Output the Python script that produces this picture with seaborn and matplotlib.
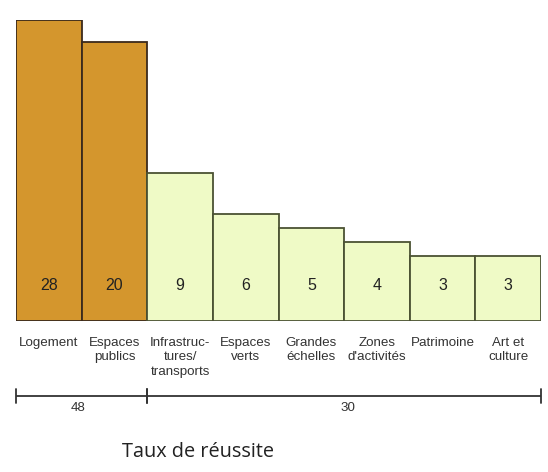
import matplotlib
matplotlib.use("Agg")
import matplotlib.pyplot as plt
import seaborn as sns
import pandas as pd

# Thematic categories, project counts and the relative bar height of each theme
categories = ["Logement", "Espaces\npublics", "Infrastruc-\ntures/\ntransports",
              "Espaces\nverts", "Grandes\néchelles", "Zones\nd'activités",
              "Patrimoine", "Art et\nculture"]
counts = [28, 20, 9, 6, 5, 4, 3, 3]
heights = [100, 92.7, 49.3, 35.7, 31.0, 26.3, 21.7, 21.7]
groups = ["A", "A", "B", "B", "B", "B", "B", "B"]
group_totals = [48, 30]
title = "Taux de réussite"

fill = {"A": "#D4962D", "B": "#EFFAC6"}
edge = {"A": "#3B2A1C", "B": "#4B5233"}

df = pd.DataFrame({"cat": categories, "h": heights, "n": counts, "g": groups})

sns.set_theme(style="white")
plt.rcParams["font.family"] = ["Liberation Sans", "DejaVu Sans"]

W, H = 548, 472
fig = plt.figure(figsize=(W / 100, H / 100), dpi=100)
ax = fig.add_axes([16 / W, 1 - 321 / H, (541 - 16) / W, 301 / H])

sns.barplot(data=df, x="cat", y="h", hue="g", palette=fill, dodge=False,
            width=1.0, legend=False, ax=ax, linewidth=1.3, edgecolor="black",
            saturation=1)

for patch, g in zip(ax.patches, groups):
    patch.set_edgecolor(edge[g])

ax.set_ylim(0, max(heights))
ax.set_xlim(-0.5, len(categories) - 0.5)
ax.set_xlabel("")
ax.set_ylabel("")
ax.set_xticks([])
ax.set_yticks([])
for s in ax.spines.values():
    s.set_visible(False)

# pixel offset below the baseline -> axes fraction
def below(px):
    return -px / 301

tr = ax.get_xaxis_transform()

# Counts inside the bars, at a common level
for i, n in enumerate(counts):
    ax.text(i, 1 - (285 - 20) / 301, str(n), transform=tr, ha="center",
            va="center", fontsize=11.5, color="#222222")

# Category labels below the bars
for i, c in enumerate(categories):
    ax.text(i, below(16), c, transform=tr, ha="center", va="top",
            fontsize=9.6, color="#333333", linespacing=1.25, clip_on=False)

# Group brackets with totals
yb = below(396 - 321)
tick = 7 / 301
bounds = [(-0.5, 1.5), (1.5, len(categories) - 0.5)]
for (x0, x1), tot in zip(bounds, group_totals):
    ax.plot([x0, x1], [yb, yb], transform=tr, color="#333333", lw=1.3,
            clip_on=False, solid_capstyle="butt")
    for xe in (x0, x1):
        ax.plot([xe, xe], [yb - tick, yb + tick], transform=tr,
                color="#333333", lw=1.3, clip_on=False)
ax.text(0.45, below(408 - 321), str(group_totals[0]), transform=tr,
        ha="center", va="center", fontsize=9.6, color="#333333", clip_on=False)
ax.text(4.56, below(408 - 321), str(group_totals[1]), transform=tr,
        ha="center", va="center", fontsize=9.6, color="#333333", clip_on=False)

fig.text(198 / W, 1 - 452 / H, title, ha="center", va="center",
         fontsize=14.3, color="#222222", family=["Open Sans", "DejaVu Sans"])

fig.savefig("out.png", dpi=100, facecolor="white")
